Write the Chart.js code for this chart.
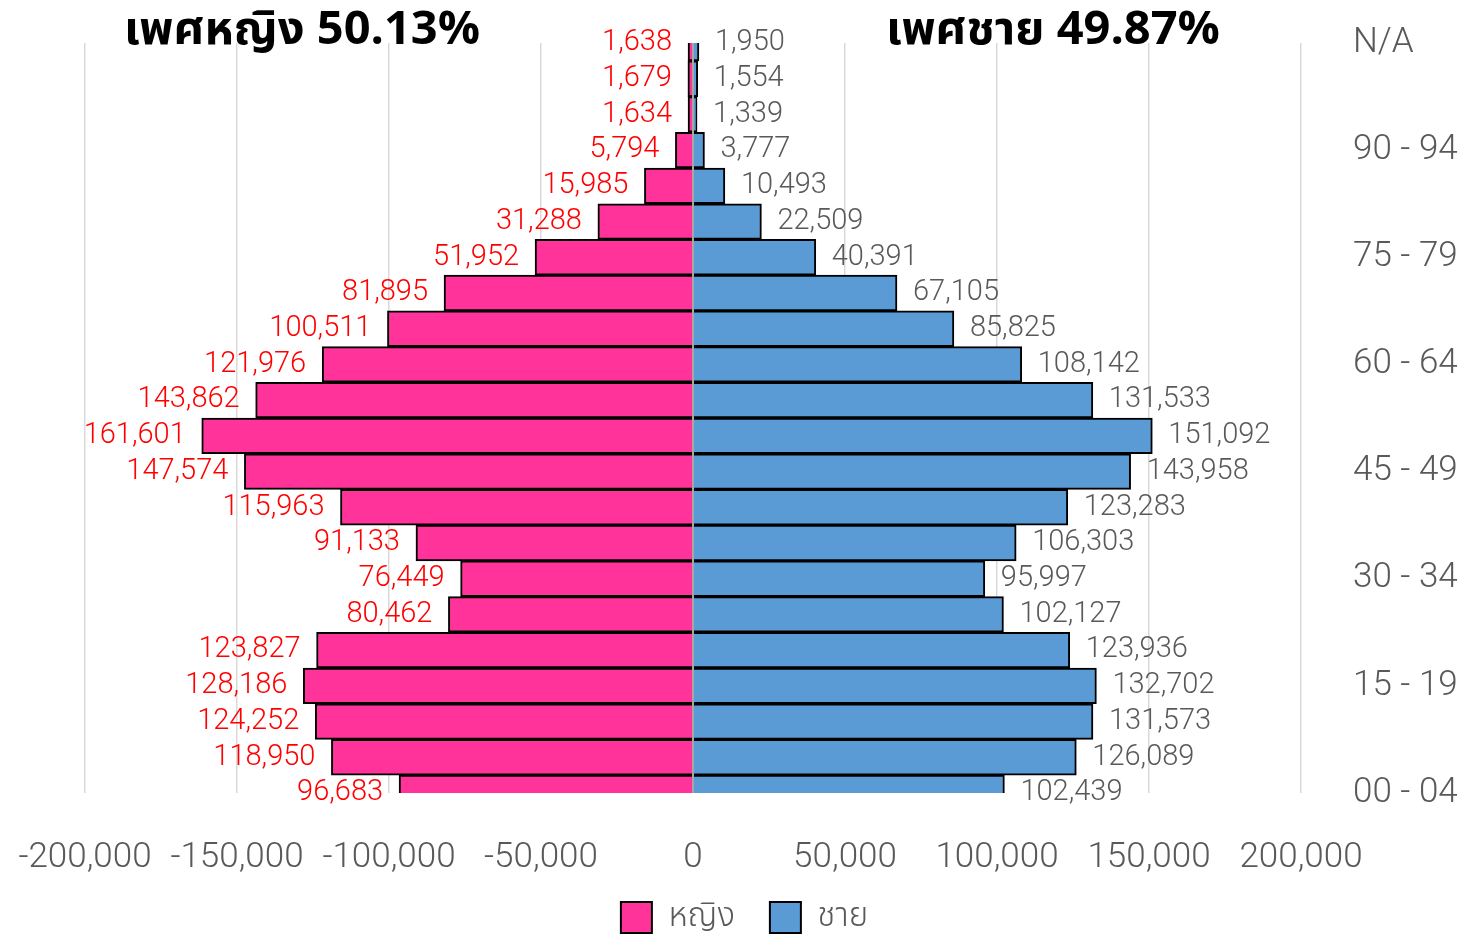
<!DOCTYPE html>
<html lang="th">
<head>
<meta charset="utf-8">
<title>ปิรามิดประชากร</title>
<script src="https://cdn.jsdelivr.net/npm/chart.js@4.4.0/dist/chart.umd.min.js"></script>
<style>
    html, body { margin: 0; padding: 0; background: #fff; }
    #wrap { position: relative; width: 1472px; height: 936px; }
    .title {
        position: absolute; top: 2px; font-family: 'Noto Sans Thai', 'Noto Sans', sans-serif;
        font-weight: bold; font-size: 47px; color: #000; line-height: 56px; white-space: nowrap;
        transform: translateX(-50%);
    }
</style>
</head>
<body>
<div id="wrap">
    <canvas id="pyramid"></canvas>
    <div class="title" style="left: 302px;">เพศหญิง 50.13%</div>
    <div class="title" style="left: 1053px;">เพศชาย 49.87%</div>
</div>
<script>
// ข้อมูล (จากบนลงล่าง)
const ageGroups = ['N/A', '100+', '95 - 99', '90 - 94', '85 - 89', '80 - 84', '75 - 79', '70 - 74',
    '65 - 69', '60 - 64', '55 - 59', '50 - 54', '45 - 49', '40 - 44', '35 - 39', '30 - 34',
    '25 - 29', '20 - 24', '15 - 19', '10 - 14', '05 - 09', '00 - 04'];
const female = [1638, 1679, 1634, 5794, 15985, 31288, 51952, 81895, 100511, 121976, 143862,
    161601, 147574, 115963, 91133, 76449, 80462, 123827, 128186, 124252, 118950, 96683];
const male = [1950, 1554, 1339, 3777, 10493, 22509, 40391, 67105, 85825, 108142, 131533,
    151092, 143958, 123283, 106303, 95997, 102127, 123936, 132702, 131573, 126089, 102439];
const xTicks = [-200000, -150000, -100000, -50000, 0, 50000, 100000, 150000, 200000];

const FONT = "Roboto, 'Noto Sans Thai', 'Noto Sans', sans-serif";
const fmt = v => Math.abs(v) === 0 ? '0' : v.toLocaleString('en-US');

// เส้นแกนที่ศูนย์ + ป้ายค่าของแต่ละแท่ง
const pyramidExtras = {
    id: 'pyramidExtras',
    afterUpdate(chart) {
        // เลื่อนคำอธิบายสัญลักษณ์ไปทางซ้ายและขึ้นเล็กน้อย
        const lg = chart.legend;
        if (lg) { lg.left -= 34; lg.right -= 34; lg.top -= 12; }
    },
    afterDatasetsDraw(chart) {
        const { ctx, chartArea, scales } = chart;
        const x0 = scales.x.getPixelForValue(0);
        ctx.save();
        ctx.strokeStyle = '#a6a6a6';
        ctx.lineWidth = 2;
        ctx.beginPath();
        ctx.moveTo(x0, chartArea.top);
        ctx.lineTo(x0, chartArea.bottom);
        ctx.stroke();

        ctx.font = '300 29px ' + FONT;
        ctx.textBaseline = 'middle';
        chart.data.datasets.forEach((ds, di) => {
            const meta = chart.getDatasetMeta(di);
            meta.data.forEach((bar, i) => {
                const v = ds.data[i];
                if (v < 0) {
                    ctx.fillStyle = '#ff0000';
                    ctx.textAlign = 'right';
                    ctx.fillText(fmt(-v), bar.x - 16, bar.y);
                } else {
                    ctx.fillStyle = '#595959';
                    ctx.textAlign = 'left';
                    ctx.fillText(fmt(v), bar.x + 16, bar.y);
                }
            });
        });
        ctx.restore();
    }
};

const ctx = document.getElementById('pyramid').getContext('2d');
new Chart(ctx, {
    type: 'bar',
    data: {
        labels: ageGroups,
        datasets: [{
            label: 'หญิง',
            data: female.map(v => -v),
            backgroundColor: '#ff3399',
            borderColor: '#000',
            borderWidth: 2,
            clip: 0
        }, {
            label: 'ชาย',
            data: male,
            backgroundColor: '#5b9bd5',
            borderColor: '#000',
            borderWidth: 2,
            clip: 0
        }]
    },
    options: {
        indexAxis: 'y',
        responsive: true,
        maintainAspectRatio: false,
        animation: false,
        barPercentage: 1,
        categoryPercentage: 1,
        layout: { padding: { left: 85, top: 43, right: 0, bottom: 0 } },
        scales: {
            x: {
                stacked: true,
                min: -200000, max: 200000,
                afterBuildTicks: scale => { scale.ticks = xTicks.map(v => ({ value: v })); },
                afterFit: scale => { scale.paddingLeft = 0; scale.paddingRight = 0; scale.height = 85; },
                grid: { color: '#d9d9d9', lineWidth: 1.5, drawTicks: false },
                border: { display: false },
                ticks: {
                    color: '#595959', padding: 48,
                    font: { family: FONT, size: 35, weight: 300, lineHeight: 1 },
                    callback: v => fmt(v)
                }
            },
            y: {
                stacked: true,
                position: 'right',
                offset: false,
                grid: { display: false },
                border: { display: false },
                afterFit: scale => { scale.width = 171; scale.paddingTop = 0; scale.paddingBottom = 0; },
                ticks: {
                    autoSkip: false,
                    crossAlign: 'near',
                    padding: 44,
                    color: '#595959',
                    font: { family: FONT, size: 35, weight: 300 },
                    callback: (v, i) => i % 3 === 0 ? ageGroups[i] : ''
                }
            }
        },
        plugins: {
            legend: {
                position: 'bottom',
                maxHeight: 58,
                labels: {
                    boxWidth: 31, boxHeight: 31, padding: 35,
                    color: '#595959',
                    font: { family: FONT, size: 33, weight: 300 }
                }
            },
            tooltip: { enabled: false }
        }
    },
    plugins: [pyramidExtras]
});
</script>
</body>
</html>
